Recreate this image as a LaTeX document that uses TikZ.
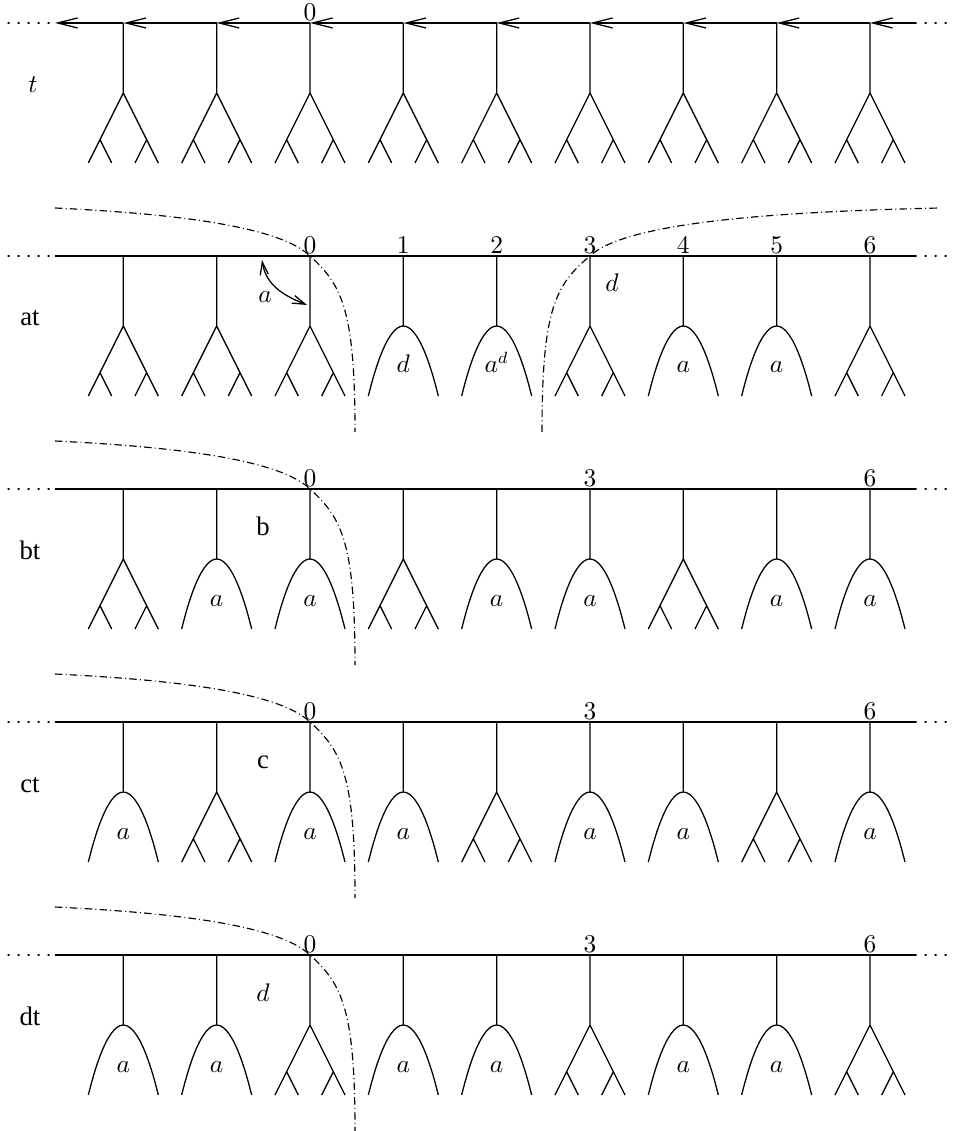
\documentclass[tikz,border=0pt]{standalone}
\usepackage{fontspec}
\newfontfamily\rowfont{Liberation Serif}
\usetikzlibrary{arrows.meta}
\newcommand\lmsize{\fontsize{10.5}{12}\selectfont}
\tikzset{
  bintree/.pic={\draw (0,0) -- (0,70) (-35,140) -- (0,70) -- (35,140)
      (-23.33,116.67) -- (-11.67,140) (23.33,116.67) -- (11.67,140);},
  pics/arch/.style={code={\draw (0,0) -- (0,70) (-35,140) parabola bend (0,70) (35,140);
      \node[anchor=base] at (0,117) {$#1$};}},
}
\begin{document}
\begin{tikzpicture}[x=0.43pt,y=-0.43pt,line width=0.55pt,
  every node/.style={inner sep=0pt,font=\lmsize},
  dots/.style={dash pattern=on 0.5pt off 3.8pt,line cap=round},
  cut/.style={line width=0.5pt,dash pattern=on 3.2pt off 1.4pt on 0.4pt off 1.4pt},
  barb/.style={-{Straight Barb[length=8.6pt,width=4.3pt]}},
  twobarb/.style={{Straight Barb[length=5.5pt,width=3.5pt]}-{Straight Barb[length=5.5pt,width=3.5pt]}},
  rowlab/.style={anchor=base,font=\rowfont\fontsize{11.5}{13}\selectfont},
  numlab/.style={anchor=base},
]
\useasboundingbox (0,0) rectangle (955,1131);

% ---------- row t ----------
\foreach \k in {0,...,8} {
  \coordinate (A\k) at ({123.33+93.33*\k},23);
  \pic at (A\k) {bintree};
}
\coordinate (AL) at (55,23); \coordinate (AR) at (915,23);
\draw[dots] (8,23) -- (AL);
\draw[dots] (AR) -- (955,23);
\foreach \a/\b in {AR/A8,A8/A7,A7/A6,A6/A5,A5/A4,A4/A3,A3/A2,A2/A1,A1/A0,A0/AL}
  \draw[barb] (\a) -- (\b);
\node[numlab] (a0) at ([yshift=1.1pt]A2) {$0$};
\node[anchor=base] (tl) at (33,93) {$t$};

% ---------- row at ----------
\foreach \k in {0,...,8} \coordinate (B\k) at ({123.33+93.33*\k},256);
\coordinate (BL) at (55,256); \coordinate (BR) at (915,256);
\draw[dots] (8,256) -- (BL);
\draw[dots] (BR) -- (955,256);
\draw (BL) -- (BR);
\foreach \k in {0,1,2,5,8} \pic at (B\k) {bintree};
\foreach \k/\l in {3/d,4/a^d,6/a,7/a} \pic at (B\k) {arch=\l};
\foreach \k/\n in {2/0,3/1,4/2,5/3,6/4,7/5,8/6}
  \node[numlab] (b\n) at ([yshift=1.1pt]B\k) {$\n$};
\node[rowlab] (atl) at (30,326) {at};
\node[anchor=base] (ad) at (612,292) {$d$};
\node[anchor=base] (aa) at (265,303) {$a$};
\coordinate (aw1) at (262,260); \coordinate (aw2) at (307,305);
\draw[twobarb] (aw1) .. controls (266,286) and (285,296) .. (aw2);
\draw[cut] (55,208) .. controls (180,214) and (280,227) .. (B2)
  .. controls (342,285) and (355,310) .. (355,432);
\draw[cut] (542,432) .. controls (542,310) and (555,285) .. (B5)
  .. controls (624,224) and (760,212) .. (940,208);

% ---------- row bt ----------
\foreach \k in {0,...,8} \coordinate (C\k) at ({123.33+93.33*\k},489);
\coordinate (CL) at (55,489); \coordinate (CR) at (915,489);
\draw[dots] (8,489) -- (CL);
\draw[dots] (CR) -- (955,489);
\draw (CL) -- (CR);
\foreach \k in {0,3,6} \pic at (C\k) {bintree};
\foreach \k in {1,2,4,5,7,8} \pic at (C\k) {arch=a};
\foreach \k/\n in {2/0,5/3,8/6}
  \node[numlab] (c\n) at ([yshift=1.1pt]C\k) {$\n$};
\node[rowlab] (btl) at (30,559) {bt};
\node[rowlab] (bb) at (263,535) {b};
\draw[cut] (55,441) .. controls (180,447) and (280,460) .. (C2)
  .. controls (342,518) and (355,543) .. (355,665);

% ---------- row ct ----------
\foreach \k in {0,...,8} \coordinate (D\k) at ({123.33+93.33*\k},722);
\coordinate (DL) at (55,722); \coordinate (DR) at (915,722);
\draw[dots] (8,722) -- (DL);
\draw[dots] (DR) -- (955,722);
\draw (DL) -- (DR);
\foreach \k in {1,4,7} \pic at (D\k) {bintree};
\foreach \k in {0,2,3,5,6,8} \pic at (D\k) {arch=a};
\foreach \k/\n in {2/0,5/3,8/6}
  \node[numlab] (d\n) at ([yshift=1.1pt]D\k) {$\n$};
\node[rowlab] (ctl) at (30,792) {ct};
\node[rowlab] (cc) at (263,768) {c};
\draw[cut] (55,674) .. controls (180,680) and (280,693) .. (D2)
  .. controls (342,751) and (355,776) .. (355,898);

% ---------- row dt ----------
\foreach \k in {0,...,8} \coordinate (E\k) at ({123.33+93.33*\k},955);
\coordinate (EL) at (55,955); \coordinate (ER) at (915,955);
\draw[dots] (8,955) -- (EL);
\draw[dots] (ER) -- (955,955);
\draw (EL) -- (ER);
\foreach \k in {2,5,8} \pic at (E\k) {bintree};
\foreach \k in {0,1,3,4,6,7} \pic at (E\k) {arch=a};
\foreach \k/\n in {2/0,5/3,8/6}
  \node[numlab] (e\n) at ([yshift=1.1pt]E\k) {$\n$};
\node[rowlab] (dtl) at (30,1025) {dt};
\node[anchor=base] (dd) at (263,1001) {$d$};
\draw[cut] (55,907) .. controls (180,913) and (280,926) .. (E2)
  .. controls (342,984) and (355,1009) .. (355,1131);
\end{tikzpicture}
\end{document}
